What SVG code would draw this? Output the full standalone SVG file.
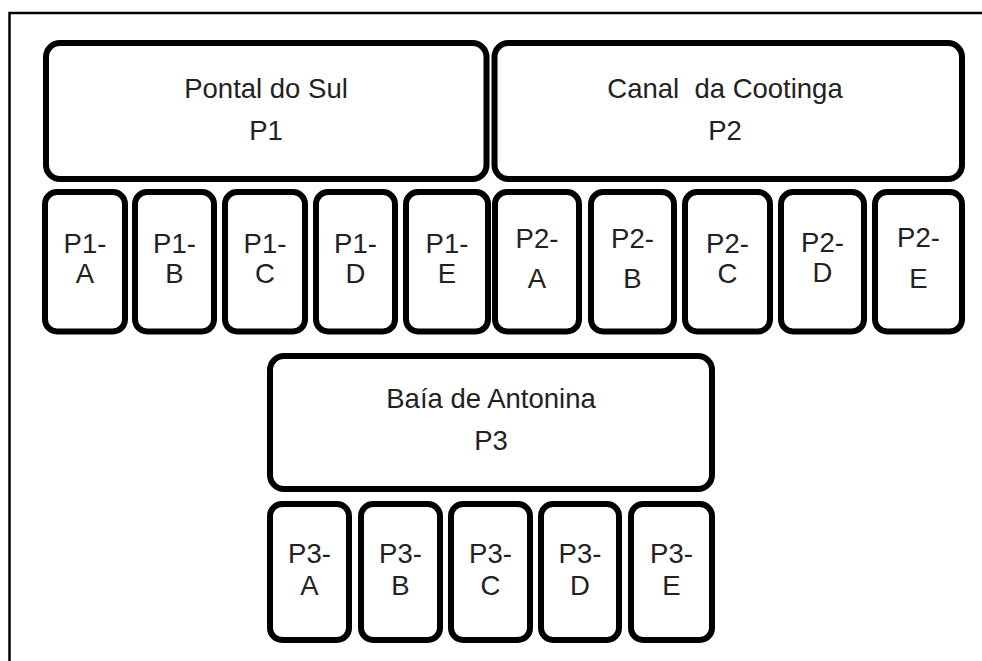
<svg xmlns="http://www.w3.org/2000/svg" width="982" height="661" viewBox="0 0 982 661">
  <style>
    .box { fill: #ffffff; stroke: #000000; stroke-width: 6; }
    .lbl { font-family: "Liberation Sans", Arial, sans-serif; font-size: 27.5px; fill: #222222; text-anchor: middle; }
    .pre { white-space: pre; }
    .frame { fill: none; stroke: #000000; stroke-width: 2.5; }
  </style>
  <rect x="0" y="0" width="982" height="661" fill="#ffffff"/>
  <path class="frame" d="M9.5,661 V13 H982"/>

  <g id="connectors"></g>

  <!-- area P1 -->
  <g id="p1">
    <rect class="box" x="46" y="43" width="440.5" height="136" rx="14"/>
    <text class="lbl" x="266" y="98">Pontal do Sul</text>
    <text class="lbl" x="266" y="140">P1</text>
  </g>
  <g id="p1-a"><rect class="box" x="45" y="192" width="80" height="139.5" rx="12"/><text class="lbl" x="85" y="253">P1-</text><text class="lbl" x="85" y="283">A</text></g>
  <g id="p1-b"><rect class="box" x="135" y="192" width="79" height="139.5" rx="12"/><text class="lbl" x="174.5" y="253">P1-</text><text class="lbl" x="174.5" y="283">B</text></g>
  <g id="p1-c"><rect class="box" x="225" y="192" width="80" height="139.5" rx="12"/><text class="lbl" x="265" y="253">P1-</text><text class="lbl" x="265" y="283">C</text></g>
  <g id="p1-d"><rect class="box" x="316" y="192" width="79" height="139.5" rx="12"/><text class="lbl" x="355.5" y="253">P1-</text><text class="lbl" x="355.5" y="283">D</text></g>
  <g id="p1-e"><rect class="box" x="406" y="192" width="82" height="139.5" rx="12"/><text class="lbl" x="447" y="253">P1-</text><text class="lbl" x="447" y="283">E</text></g>

  <!-- area P2 -->
  <g id="p2">
    <rect class="box" x="494.5" y="43" width="467.5" height="136" rx="14"/>
    <text class="lbl pre" x="725" y="98" xml:space="preserve">Canal  da Cootinga</text>
    <text class="lbl" x="725" y="140">P2</text>
  </g>
  <g id="p2-a"><rect class="box" x="495" y="192" width="84" height="139.5" rx="12"/><text class="lbl" x="537" y="248">P2-</text><text class="lbl" x="537" y="288">A</text></g>
  <g id="p2-b"><rect class="box" x="591" y="192" width="83" height="139.5" rx="12"/><text class="lbl" x="632.5" y="248">P2-</text><text class="lbl" x="632.5" y="288">B</text></g>
  <g id="p2-c"><rect class="box" x="685" y="192" width="85" height="139.5" rx="12"/><text class="lbl" x="727.5" y="253">P2-</text><text class="lbl" x="727.5" y="283">C</text></g>
  <g id="p2-d"><rect class="box" x="781" y="192" width="83" height="139.5" rx="12"/><text class="lbl" x="822.5" y="252">P2-</text><text class="lbl" x="822.5" y="282">D</text></g>
  <g id="p2-e"><rect class="box" x="875" y="192" width="87" height="139.5" rx="12"/><text class="lbl" x="918.5" y="247">P2-</text><text class="lbl" x="918.5" y="288">E</text></g>

  <!-- area P3 -->
  <g id="p3">
    <rect class="box" x="270" y="356" width="442" height="133" rx="14"/>
    <text class="lbl" x="491" y="408">Baía de Antonina</text>
    <text class="lbl" x="491" y="450">P3</text>
  </g>
  <g id="p3-a"><rect class="box" x="270" y="504" width="79" height="136" rx="12"/><text class="lbl" x="309.5" y="563">P3-</text><text class="lbl" x="309.5" y="595">A</text></g>
  <g id="p3-b"><rect class="box" x="361" y="504" width="79" height="136" rx="12"/><text class="lbl" x="400.5" y="563">P3-</text><text class="lbl" x="400.5" y="595">B</text></g>
  <g id="p3-c"><rect class="box" x="451" y="504" width="79" height="136" rx="12"/><text class="lbl" x="490.5" y="563">P3-</text><text class="lbl" x="490.5" y="595">C</text></g>
  <g id="p3-d"><rect class="box" x="541" y="504" width="78" height="136" rx="12"/><text class="lbl" x="580" y="563">P3-</text><text class="lbl" x="580" y="595">D</text></g>
  <g id="p3-e"><rect class="box" x="631" y="504" width="81" height="136" rx="12"/><text class="lbl" x="671.5" y="563">P3-</text><text class="lbl" x="671.5" y="595">E</text></g>
</svg>
